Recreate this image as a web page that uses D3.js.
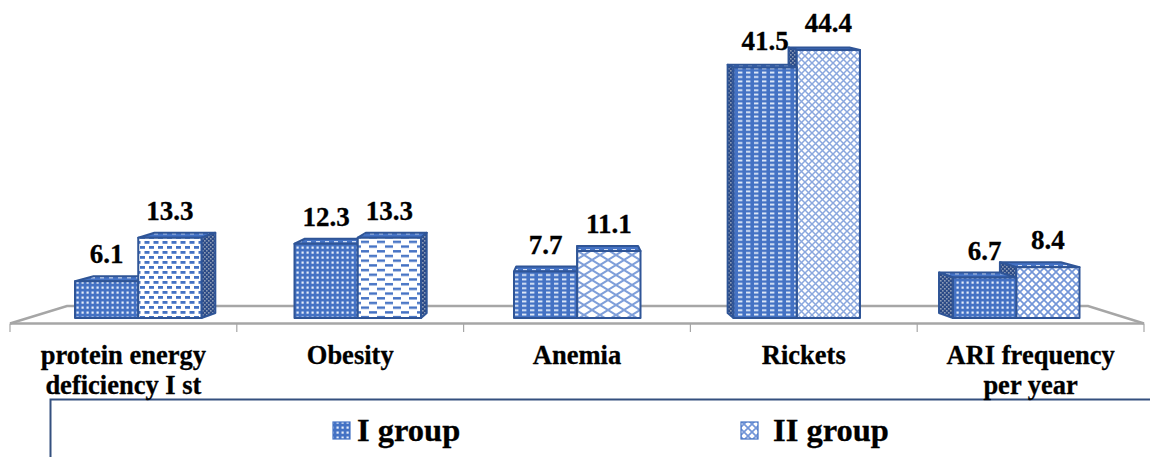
<!DOCTYPE html>
<html>
<head>
<meta charset="utf-8">
<script src="https://cdn.jsdelivr.net/npm/d3@7/dist/d3.min.js"></script>
<style>
html,body{margin:0;padding:0;background:#fff;overflow:hidden}
text{font-family:"Liberation Serif",serif;font-weight:bold;fill:#000;stroke:#000;stroke-width:.3px}
</style>
</head>
<body>
<svg id="chart" width="1150" height="457"></svg>
<script>
const categories = ["protein energy deficiency I st", "Obesity", "Anemia", "Rickets", "ARI frequency per year"];
const categoryLines = [["protein energy", "deficiency I st"], ["Obesity"], ["Anemia"], ["Rickets"], ["ARI frequency", "per year"]];
const seriesNames = ["I group", "II group"];
const groupOne = [6.1, 12.3, 7.7, 41.5, 6.7];
const groupTwo = [13.3, 13.3, 11.1, 44.4, 8.4];

const BLUE = "#4472c4", EDGE = "#2f5597", DARK = "#2b4a86";
const svg = d3.select("#chart");
const defs = svg.append("defs");

// Hatch fills: a tile with a background colour, small rects and an optional line path.
function tile(id, w, h, bg, shapes, path) {
  const p = defs.append("pattern").attr("id", id).attr("patternUnits", "userSpaceOnUse")
    .attr("width", w).attr("height", h);
  p.append("rect").attr("width", w).attr("height", h).attr("fill", bg);
  shapes.forEach(s => p.append("rect").attr("x", s[0]).attr("y", s[1]).attr("width", s[2]).attr("height", s[3])
    .attr("fill", s[4]));
  if (path) p.append("path").attr("d", path.d).attr("fill", "none").attr("stroke", path.color).attr("stroke-width", path.width);
}
const L = "#e6eefa";
const cross = (w, h) => `M0,0L${w},${h}M${w},0L0,${h}`;
tile("dots", 5, 5, BLUE, [[1.5, 1.5, 2.2, 2.2, L]]);
tile("rows", 8, 4.4, BLUE, [[2, 1.3, 4.4, 1.8, L]]);
tile("dashA", 9, 10, "#fff", [[0.5, 1, 5, 2.8, BLUE], [5, 6, 5, 2.8, BLUE], [-4, 6, 5, 2.8, BLUE]]);
tile("dashB", 16, 9.4, "#fff", [[1, 1, 8, 2.4, BLUE], [9, 5.7, 8, 2.4, BLUE], [-7, 5.7, 8, 2.4, BLUE]]);
tile("lattice", 16, 10, "#fff", [], { d: cross(16, 10), color: "#7f9fda", width: 2 });
tile("diamond", 7, 7, "#fff", [], { d: cross(7, 7), color: "#8aa7de", width: 1.5 });
tile("check", 8, 8, "#fff", [], { d: cross(8, 8), color: "#7396d8", width: 1.7 });
tile("side", 4, 4, DARK, [[0, 0, 1.6, 1.6, "#8c9bb5"], [2, 2, 1.6, 1.6, "#8c9bb5"]]);
tile("lid", 9, 4, BLUE, [[1, 1, 4, 1.4, "#cfdcf3"]]);

// Each bar carries its own hatch, per category and per series.
const fillsOne = ["dots", "dots", "rows", "rows", "dots"];
const fillsTwo = ["dashA", "dashB", "lattice", "diamond", "check"];

// Floor: tick positions run the full width, columns stand slightly inward.
const floorBand = d3.scaleBand().domain(categories).range([10, 1144]);
const columnBand = d3.scaleBand().domain(categories).range([28.5, 1126]);
const seriesBand = d3.scaleBand().domain(seriesNames).range([0, 126.5]);
const y = d3.scaleLinear().domain([0, 44.4]).range([318, 50]);

const VANISH_X = 575, SKEW = 0.037, RISE = 5;
const backX = x => x + (VANISH_X - x) * SKEW;
// Taller columns sit nearer eye level, so their lids foreshorten.
const lidRise = d3.scaleLinear().domain([50, 240]).range([2.5, 5]).clamp(true);
const poly = pts => pts.map(p => p.join(",")).join(" ");

// Floor outline and tick marks
const floor = svg.append("g").attr("fill", "none").attr("stroke", "#a6a6a6").attr("stroke-width", 2.4);
floor.append("polyline").attr("points", poly([[10, 323.5], [67, 306], [1088, 306], [1144, 323.5]]));
floor.append("line").attr("x1", 10).attr("x2", 1144).attr("y1", 323.5).attr("y2", 323.5);
const edges = categories.map(c => floorBand(c)).concat(1144);
floor.selectAll(".tick").data(edges).join("line").attr("class", "tick")
  .attr("x1", d => d).attr("x2", d => d).attr("y1", 323.5).attr("y2", 332).attr("stroke-width", 1.2);

// Assemble bars, painted from the outer edge toward the centre so nearer faces overlap.
const bars = [];
categories.forEach((c, i) => {
  const cx = columnBand(c) + (columnBand.bandwidth() - seriesBand.range()[1]) / 2;
  const pair = [
    { s: seriesNames[0], v: groupOne[i], fill: fillsOne[i] },
    { s: seriesNames[1], v: groupTwo[i], fill: fillsTwo[i] }
  ].map(d => ({ ...d, x0: cx + seriesBand(d.s), x1: cx + seriesBand(d.s) + seriesBand.bandwidth() }));
  (cx > VANISH_X ? pair.reverse() : pair).forEach(d => bars.push(d));
});

const barG = svg.append("g").attr("stroke", EDGE).attr("stroke-width", 2).attr("stroke-linejoin", "round");
bars.forEach(d => {
  const top = y(d.v), base = y(0), rise = lidRise(top);
  const g = barG.append("g");
  const bx0 = backX(d.x0), bx1 = backX(d.x1);
  g.append("polygon").attr("fill", "url(#lid)")
    .attr("points", poly([[d.x0, top], [d.x1, top], [bx1, top - rise], [bx0, top - rise]]));
  if (bx1 > d.x1) {
    g.append("polygon").attr("fill", "url(#side)")
      .attr("points", poly([[d.x1, top], [bx1, top - rise], [bx1, base - RISE], [d.x1, base]]));
  }
  if (bx0 < d.x0) {
    g.append("polygon").attr("fill", "url(#side)")
      .attr("points", poly([[d.x0, top], [bx0, top - rise], [bx0, base - RISE], [d.x0, base]]));
  }
  g.append("rect").attr("x", d.x0).attr("y", top).attr("width", d.x1 - d.x0).attr("height", base - top)
    .attr("fill", `url(#${d.fill})`);
});

// Value labels above each column
svg.append("g").selectAll("text").data(bars).join("text")
  .attr("x", d => (d.x0 + d.x1) / 2).attr("y", d => y(d.v) - 18)
  .attr("text-anchor", "middle").attr("font-size", 27).text(d => d.v);

// Legend frame, open on the right and bottom
svg.append("polyline").attr("fill", "none").attr("stroke", "#34507f").attr("stroke-width", 2)
  .attr("points", poly([[50.5, 457], [50.5, 399.5], [1150, 399.5]]));

// Category labels
const catG = svg.append("g").selectAll("text").data(categories).join("text")
  .attr("text-anchor", "middle").attr("font-size", 26.5)
  .attr("transform", d => `translate(${floorBand(d) + floorBand.bandwidth() / 2},364)`);
catG.each(function (d, i) {
  d3.select(this).selectAll("tspan").data(categoryLines[i]).join("tspan")
    .attr("x", 0).attr("dy", (_, k) => k ? 30 : 0).text(t => t);
});

// Legend entries
const legendPos = d3.scaleOrdinal().domain(seriesNames).range([333, 741]);
const legendText = d3.scaleOrdinal().domain(seriesNames).range([357, 773]);
const legendFill = d3.scaleOrdinal().domain(seriesNames).range(["dots", "check"]);
const entry = svg.append("g").selectAll("g").data(seriesNames).join("g");
entry.append("rect").attr("x", d => legendPos(d)).attr("y", 422).attr("width", 17).attr("height", 17)
  .attr("fill", d => `url(#${legendFill(d)})`).attr("stroke", BLUE).attr("stroke-width", 1.2);
entry.append("text").attr("x", d => legendText(d)).attr("y", 441).attr("font-size", 32.5).text(d => d);
</script>
</body>
</html>
